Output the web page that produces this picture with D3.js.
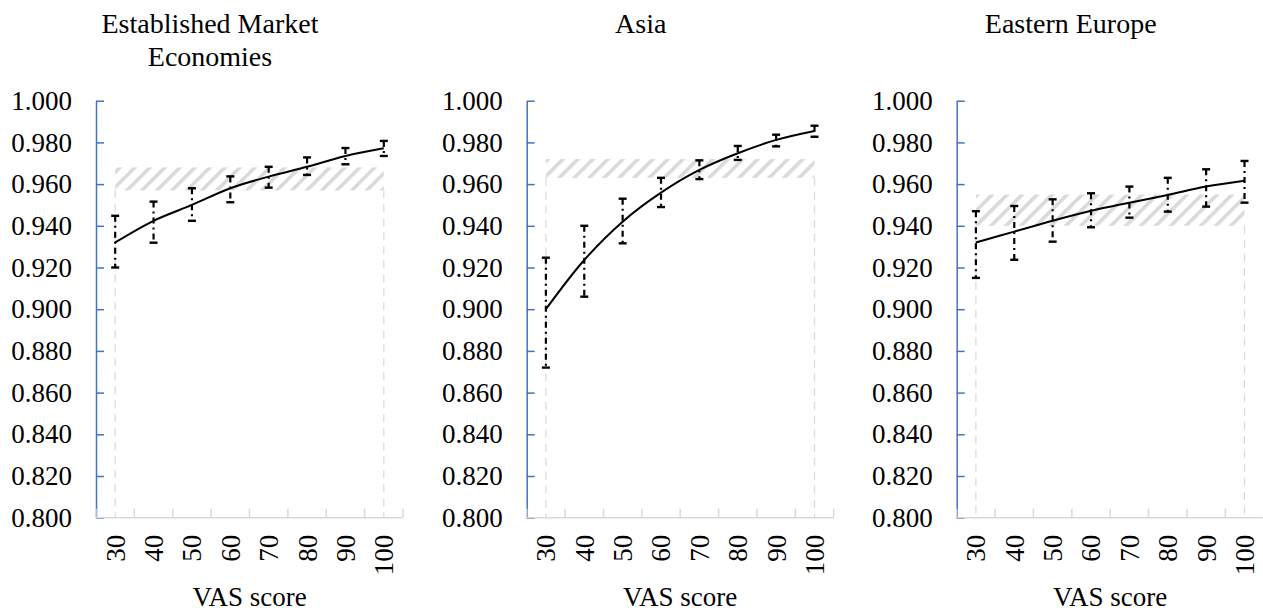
<!DOCTYPE html>
<html>
<head>
<meta charset="utf-8">
<script src="https://cdn.jsdelivr.net/npm/d3@7"></script>
<style>
  html, body { margin: 0; padding: 0; background: #fff; }
  svg { display: block; }
  svg text { font-family: "Liberation Serif", "Times New Roman", serif !important; }
</style>
</head>
<body>
<svg id="chart" width="1263" height="611"></svg>
<script>
// ---- Data ----
const vasScores = [30, 40, 50, 60, 70, 80, 90, 100];
const yTicks = [0.800, 0.820, 0.840, 0.860, 0.880, 0.900, 0.920, 0.940, 0.960, 0.980, 1.000];
const regionTitles = [["Established Market", "Economies"], ["Asia"], ["Eastern Europe"]];

const emeMean  = [0.932, 0.9424, 0.950, 0.958, 0.9636, 0.9683, 0.9735, 0.9772];
const emeLow   = [0.920, 0.9319, 0.9424, 0.9513, 0.9583, 0.9644, 0.9695, 0.9735];
const emeHigh  = [0.9448, 0.9516, 0.958, 0.9637, 0.9683, 0.9728, 0.9773, 0.9807];
const emeBand  = [0.957, 0.968];

const asiaMean = [0.900, 0.9236, 0.942, 0.9559, 0.9668, 0.9748, 0.9812, 0.9855];
const asiaLow  = [0.872, 0.906, 0.9316, 0.949, 0.9624, 0.9716, 0.9781, 0.9827];
const asiaHigh = [0.9247, 0.940, 0.953, 0.963, 0.9714, 0.9783, 0.9837, 0.988];
const asiaBand = [0.963, 0.972];

const eeMean   = [0.932, 0.9372, 0.9424, 0.9472, 0.9511, 0.9548, 0.9588, 0.9616];
const eeLow    = [0.915, 0.9237, 0.9324, 0.9393, 0.9439, 0.9468, 0.9492, 0.9511];
const eeHigh   = [0.947, 0.9495, 0.9527, 0.9556, 0.9588, 0.963, 0.9671, 0.9711];
const eeBand   = [0.940, 0.955];

const xTitle = "VAS score";

// ---- Layout ----
const svg = d3.select("#chart");
const panelLeft = [96, 526.7, 956.7];
const panelW = 307;
const yTop = 100.7, yBottom = 517.7;
const fontSize = 27;
const titleSize = 28;

const defs = svg.append("defs");
const pat = defs.append("pattern")
  .attr("id", "hatch")
  .attr("patternUnits", "userSpaceOnUse")
  .attr("width", 10.6).attr("height", 10.6)
  .attr("patternTransform", "rotate(45)");
pat.append("rect").attr("width", 3.6).attr("height", 10.6).attr("fill", "#d9d9d9");

const panels = [
  { title: regionTitles[0], mean: emeMean, low: emeLow, high: emeHigh, band: emeBand },
  { title: regionTitles[1], mean: asiaMean, low: asiaLow, high: asiaHigh, band: asiaBand },
  { title: regionTitles[2], mean: eeMean, low: eeLow, high: eeHigh, band: eeBand }
];

const y = d3.scaleLinear().domain([0.8, 1.0]).range([yBottom, yTop]);

panels.forEach((p, i) => {
  const x0 = panelLeft[i];
  const x = d3.scaleBand().domain(vasScores).range([x0, x0 + panelW]).padding(0);
  const cx = d => x(d) + x.bandwidth() / 2;
  const g = svg.append("g");

  // Hatched band
  const first = vasScores[0], last = vasScores[vasScores.length - 1];
  g.append("rect")
    .attr("x", cx(first))
    .attr("y", y(p.band[1]))
    .attr("width", cx(last) - cx(first))
    .attr("height", y(p.band[0]) - y(p.band[1]))
    .attr("fill", "url(#hatch)");

  // Dashed drop lines
  [first, last].forEach(v => {
    g.append("line")
      .attr("x1", cx(v)).attr("x2", cx(v))
      .attr("y1", y(p.band[0])).attr("y2", y(0.8))
      .attr("stroke", "#d9d9d9").attr("stroke-width", 1.2)
      .attr("stroke-dasharray", "8,6");
  });

  // Y axis
  const yAxis = d3.axisLeft(y).tickValues(yTicks).tickFormat(d3.format(".3f"))
    .tickSizeInner(-8).tickSizeOuter(0).tickPadding(24);
  const ya = g.append("g").attr("transform", `translate(${x0},0)`).call(yAxis);
  ya.attr("font-family", null).attr("font-size", null);
  ya.select(".domain").attr("stroke", "#4472C4").attr("stroke-width", 1.5);
  ya.selectAll(".tick line").attr("stroke", "#4472C4").attr("stroke-width", 1.5);
  ya.selectAll(".tick text")
    .style("font-size", fontSize + "px").attr("fill", "#000");

  // X axis (gray line with boundary ticks)
  const xa = g.append("g");
  xa.append("line")
    .attr("x1", x0).attr("x2", x0 + panelW)
    .attr("y1", y(0.8)).attr("y2", y(0.8))
    .attr("stroke", "#d9d9d9").attr("stroke-width", 1.5);
  const bounds = vasScores.map(d => x(d)).concat([x(last) + x.bandwidth()]);
  xa.selectAll("line.bt").data(bounds).enter().append("line")
    .attr("class", "bt")
    .attr("x1", d => d).attr("x2", d => d)
    .attr("y1", y(0.8)).attr("y2", y(0.8) - 9)
    .attr("stroke", "#d9d9d9").attr("stroke-width", 1.5);
  xa.selectAll("text.xt").data(vasScores).enter().append("text")
    .attr("class", "xt")
    .attr("transform", d => `translate(${cx(d)},${y(0.8) + 17}) rotate(-90)`)
    .attr("text-anchor", "end")
    .attr("dy", "0.35em")
    .style("font-size", fontSize + "px")
    .text(d => d);

  // X title
  g.append("text")
    .attr("x", x0 + panelW / 2)
    .attr("y", 606)
    .attr("text-anchor", "middle")
    .style("font-size", fontSize + "px")
    .text(xTitle);

  // Panel title
  const t = g.append("text")
    .attr("x", x0 + 114)
    .attr("y", 33)
    .attr("text-anchor", "middle")
    .style("font-size", titleSize + "px");
  p.title.forEach((line, j) => {
    t.append("tspan").attr("x", x0 + 114).attr("y", 33 + j * 32.5).text(line);
  });

  // Error bars
  const eb = g.append("g");
  vasScores.forEach((v, k) => {
    eb.append("line")
      .attr("x1", cx(v)).attr("x2", cx(v))
      .attr("y1", y(p.high[k])).attr("y2", y(p.low[k]))
      .attr("stroke", "#000").attr("stroke-width", 2.2)
      .attr("stroke-dasharray", "6,4,2,4");
    [p.high[k], p.low[k]].forEach(val => {
      eb.append("line")
        .attr("x1", cx(v) - 4).attr("x2", cx(v) + 4)
        .attr("y1", y(val)).attr("y2", y(val))
        .attr("stroke", "#000").attr("stroke-width", 2.4);
    });
  });

  // Mean line
  const line = d3.line()
    .x((d, k) => cx(vasScores[k]))
    .y(d => y(d))
    .curve(d3.curveCatmullRom.alpha(0.5));
  g.append("path")
    .datum(p.mean)
    .attr("d", line)
    .attr("fill", "none")
    .attr("stroke", "#000")
    .attr("stroke-width", 2);
});
</script>
</body>
</html>
